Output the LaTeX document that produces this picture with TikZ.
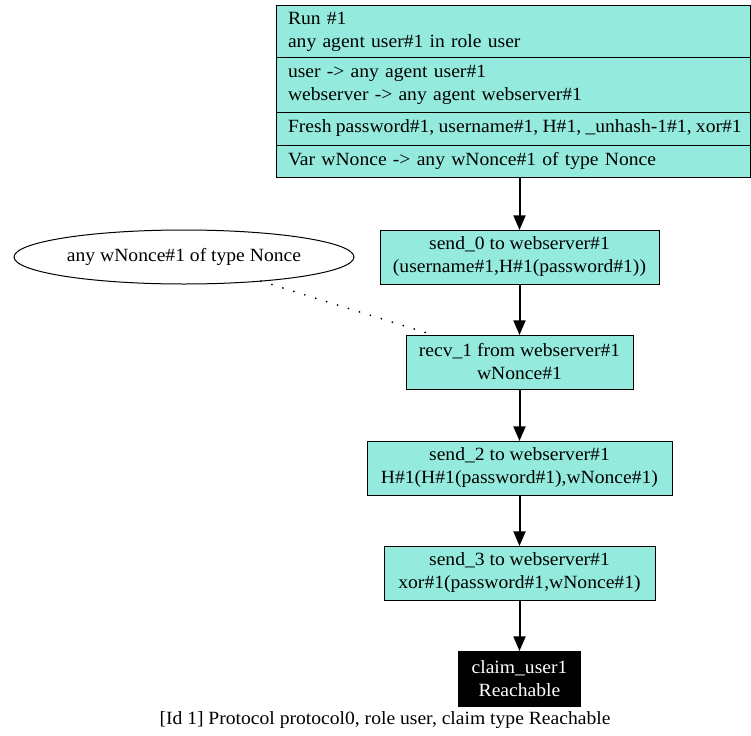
\documentclass[tikz,border=0pt]{standalone}
\usepackage{fontspec}
\setmainfont{Liberation Serif}[FakeStretch=1.05]
\usetikzlibrary{arrows.meta,shapes.geometric}
\definecolor{stepfill}{RGB}{148,235,221}
\begin{document}
\begin{tikzpicture}[x=0.75pt,y=-0.75pt,
  font=\fontsize{14pt}{17.25pt}\selectfont,
  every node/.style={inner sep=0pt, outer sep=0pt},
  recpart/.style={draw=black, fill=stepfill, line width=0.75pt, anchor=west,
    inner xsep=9pt, text width=337.5pt, minimum height=#1*0.75pt, align=left},
  stepbox/.style={draw=black, fill=stepfill, line width=0.75pt,
    minimum width=#1*0.75pt, minimum height=40.5pt, align=center},
  claimbox/.style={draw=black, fill=black, text=white, line width=0.75pt,
    minimum width=#1*0.75pt, minimum height=41.25pt, align=center},
  flow/.style={line width=1.5pt, -{Triangle[length=11pt,width=9pt]}},
  binding/.style={line width=1.4pt, line cap=round, dash pattern=on 0.1pt off 8.5pt}
]
\useasboundingbox (0,0) rectangle (751,736);

% run header record
\node[recpart=52] (run) at (276,31.5) {Run \#1\\any agent user\#1 in role user};
\node[recpart=55] (roles) at (276,85) {user -> any agent user\#1\\webserver -> any agent webserver\#1};
\node[recpart=33] (fresh) at (276,128.5) {\mbox{\spaceskip=0.23em Fresh password\#1, username\#1, H\#1, \_unhash-1\#1, xor\#1}};
\node[recpart=32] (vars) at (276,161) {Var wNonce -> any wNonce\#1 of type Nonce};

% protocol steps
\node[stepbox=279] (send0) at (519.5,257) {send\_0 to webserver\#1\\(username\#1,H\#1(password\#1))};
\node[stepbox=227] (recv1) at (519.5,362) {recv\_1 from webserver\#1\\wNonce\#1};
\node[stepbox=305] (send2) at (519.5,468) {send\_2 to webserver\#1\\H\#1(H\#1(password\#1),wNonce\#1)};
\node[stepbox=271] (send3) at (519.5,573) {send\_3 to webserver\#1\\xor\#1(password\#1,wNonce\#1)};
\node[claimbox=122] (claim) at (519.5,678.5) {claim\_user1\\Reachable};

% variable instantiation
\node[ellipse, draw=black, line width=0.75pt, minimum width=255pt, minimum height=40.5pt] (nonce) at (184,257) {any wNonce\#1 of type Nonce};

% caption
\node (caption) at (385,720) {[Id 1] Protocol protocol0, role user, claim type Reachable};

% connectors
\draw[flow] (vars.south -| send0.north) -- (send0.north);
\draw[flow] (send0) -- (recv1);
\draw[flow] (recv1) -- (send2);
\draw[flow] (send2) -- (send3);
\draw[flow] (send3) -- (claim);
\draw[binding] (nonce) -- (recv1);
\end{tikzpicture}
\end{document}
